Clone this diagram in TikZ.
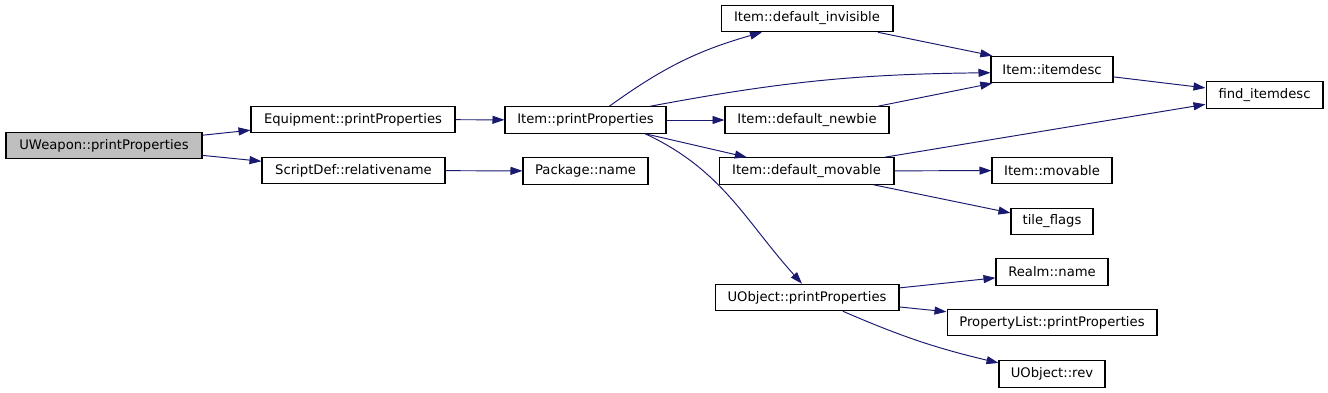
\documentclass[tikz,border=0pt]{standalone}
\usepackage{fontspec}
\setmainfont{DejaVu Sans}
\usetikzlibrary{arrows.meta}
\definecolor{cedge}{HTML}{191970}
\definecolor{cgrey}{HTML}{BFBFBF}

\begin{document}
\begin{tikzpicture}[
  x=0.02cm,y=-0.02cm,
  fn/.style={draw,line width=0.6pt,minimum height=0.53cm,inner sep=0pt,
    font=\fontsize{7.5}{9}\selectfont},
  call/.style={-{Triangle[length=0.24cm,width=0.16cm]},cedge,line width=0.55pt}]
  \useasboundingbox (0,0) rectangle (1328,392);
  % functions
  \node[fn,fill=cgrey,minimum width=3.92cm] (uw) at (104,145.5) {UWeapon::printProperties};
  \node[fn,minimum width=4.08cm] (eq) at (353,119.5) {Equipment::printProperties};
  \node[fn,minimum width=3.66cm] (sd) at (353.5,170.5) {ScriptDef::relativename};
  \node[fn,minimum width=3.22cm] (ipp) at (585.5,120) {Item::printProperties};
  \node[fn,minimum width=2.5cm] (pkg) at (585.5,171) {Package::name};
  \node[fn,minimum width=3.44cm] (inv) at (807,18.5) {Item::default\_invisible};
  \node[fn,minimum width=3.28cm] (newb) at (807,120) {Item::default\_newbie};
  \node[fn,minimum width=3.5cm] (mov) at (806.5,171) {Item::default\_movable};
  \node[fn,minimum width=3.68cm] (uobj) at (807,297.5) {UObject::printProperties};
  \node[fn,minimum width=2.44cm] (idesc) at (1052,69.5) {Item::itemdesc};
  \node[fn,minimum width=2.4cm] (imov) at (1052,170.5) {Item::movable};
  \node[fn,minimum width=1.64cm] (tile) at (1052,221.5) {tile\_flags};
  \node[fn,minimum width=2.24cm] (realm) at (1052,272) {Realm::name};
  \node[fn,minimum width=4.2cm] (plist) at (1052,322.5) {PropertyList::printProperties};
  \node[fn,minimum width=2.12cm] (rev) at (1052,374) {UObject::rev};
  \node[fn,minimum width=2.34cm] (find) at (1264.5,95) {find\_itemdesc};
  % calls
  \draw[call] (uw) -- (eq);
  \draw[call] (uw) -- (sd);
  \draw[call] (eq) -- (ipp);
  \draw[call] (sd) -- (pkg);
  \draw[call] (ipp.30) to[bend left=10] (inv.-163);
  \draw[call] (ipp.12) to[bend left=5] (idesc.-177);
  \draw[call] (ipp) -- (newb);
  \draw[call] (ipp) -- (mov);
  \draw[call] (ipp.-13) to[out=-25,in=132] (uobj.110);
  \draw[call] (inv.-11) -- (idesc.167);
  \draw[call] (newb.11) -- (idesc.-167);
  \draw[call] (idesc) -- (find);
  \draw[call] (mov.10) -- (find.-171);
  \draw[call] (mov) -- (imov);
  \draw[call] (mov) -- (tile);
  \draw[call] (uobj) -- (realm);
  \draw[call] (uobj) -- (plist);
  \draw[call] (uobj.-21) to[bend right=5] (rev);
\end{tikzpicture}
\end{document}
